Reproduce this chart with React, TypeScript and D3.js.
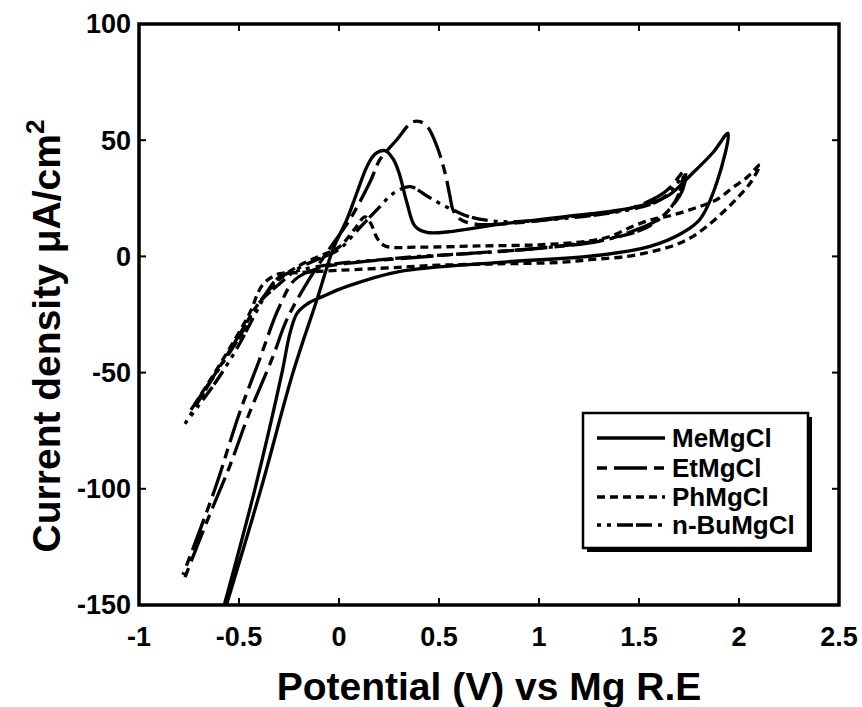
import React from "react";
import * as d3 from "d3";

// Cyclic voltammograms: [potential V, current density µA/cm²]
const meMgCl: [number, number][] = [
  [-0.57, -152], [-0.39, -100], [-0.23, -50], [-0.11, -18.5], [-0.03, 3], [0.04, 16],
  [0.09, 27.5], [0.14, 38.7], [0.18, 44], [0.23, 45.5], [0.27, 42], [0.3, 36], [0.34, 23],
  [0.38, 13], [0.44, 10.3], [0.57, 10.8], [0.8, 13.8], [1.14, 17.2], [1.47, 21], [1.64, 25.8],
  [1.77, 36], [1.87, 44.7], [1.945, 53],
  [1.89, 32], [1.805, 16], [1.72, 10.3], [1.555, 4.3], [1.3, 0.5], [0.8, -2.6], [0.3, -6.5],
  [0.04, -12.9], [-0.08, -17.2], [-0.16, -20.5], [-0.21, -24.5], [-0.245, -33], [-0.285, -50],
  [-0.42, -100], [-0.58, -152],
];

const etMgCl: [number, number][] = [
  [-0.77, -138], [-0.66, -114], [-0.545, -90], [-0.46, -70], [-0.33, -43], [-0.26, -27],
  [-0.15, -10], [-0.05, 3], [0.055, 16], [0.155, 32], [0.205, 41.7], [0.29, 50.3], [0.365, 57.7],
  [0.405, 58], [0.445, 55.5], [0.49, 47.3], [0.53, 36], [0.555, 25.8], [0.57, 20], [0.605, 16],
  [0.69, 13.8], [0.9, 14.5], [1.2, 17.5], [1.45, 20.5], [1.6, 26], [1.66, 30], [1.73, 37],
  [1.72, 29], [1.66, 21], [1.59, 15.5], [1.44, 10], [1.3, 6.5], [1.0, 3.5], [0.6, 1], [0.3, -1],
  [0.1, -2.5], [-0.1, -5], [-0.22, -10], [-0.3, -22], [-0.4, -45], [-0.5, -68], [-0.62, -100],
  [-0.78, -137],
];

const phMgCl: [number, number][] = [
  [-0.74, -66], [-0.6, -48], [-0.5, -34], [-0.4, -20], [-0.3, -10], [-0.2, -4], [-0.1, 0],
  [0, 4], [0.08, 12], [0.13, 17], [0.16, 14], [0.19, 8], [0.23, 4.5], [0.4, 4], [0.7, 4.5],
  [1.0, 5], [1.24, 6.5], [1.355, 8.6], [1.47, 13], [1.57, 16], [1.655, 17.5], [1.77, 20.5],
  [1.89, 24.5], [1.97, 29.7], [2.04, 34], [2.105, 39.5],
  [2.06, 32], [1.99, 25], [1.92, 19], [1.84, 13], [1.77, 8.6], [1.69, 5.2], [1.57, 2.2],
  [1.44, 0], [1.27, -1.3], [1.1, -2.6], [0.8, -3.2], [0.5, -3.8], [0.3, -4.7], [0, -6],
  [-0.2, -7], [-0.3, -7.5], [-0.38, -12], [-0.45, -25], [-0.55, -40], [-0.65, -54], [-0.74, -66],
];

const nBuMgCl: [number, number][] = [
  [-0.77, -72], [-0.65, -55], [-0.5, -35], [-0.4, -20], [-0.3, -12], [-0.2, -5], [-0.1, -1],
  [0, 3], [0.1, 12], [0.2, 21], [0.27, 27], [0.355, 30], [0.44, 26], [0.5, 23], [0.57, 20],
  [0.655, 17], [0.8, 15], [1.0, 15.5], [1.3, 18], [1.5, 21], [1.6, 24], [1.68, 30], [1.72, 35],
  [1.7, 27], [1.65, 20], [1.55, 13], [1.4, 8.5], [1.2, 5.5], [1.0, 3.5], [0.7, 1.5], [0.4, 0],
  [0.2, -1.5], [0, -3], [-0.2, -6], [-0.3, -9], [-0.35, -14], [-0.42, -25], [-0.5, -38],
  [-0.6, -52], [-0.7, -64], [-0.77, -72],
];

const seriesNames = ["MeMgCl", "EtMgCl", "PhMgCl", "n-BuMgCl"];
const seriesData = [meMgCl, etMgCl, phMgCl, nBuMgCl];
const dashes = ["none", "10,7,33,7", "8,5", "4,6,4,6,16,3,16,6"];

const xTicks = [-1, -0.5, 0, 0.5, 1, 1.5, 2, 2.5];
const yTicks = [-150, -100, -50, 0, 50, 100];

const W = 862;
const H = 707;
const left = 139, right = 839, top = 24, bottom = 605;

export default function App() {
  const x = d3.scaleLinear().domain([-1, 2.5]).range([left, right]);
  const y = d3.scaleLinear().domain([-150, 100]).range([bottom, top]);
  const line = d3
    .line<[number, number]>()
    .x((d) => x(d[0]))
    .y((d) => y(d[1]))
    .curve(d3.curveCatmullRom.alpha(0.5));

  const font = "'Liberation Sans', Arial, sans-serif";
  const tickLen = 7;

  // legend geometry
  const lx = 583, ly = 413, lw = 225, lh = 135;
  const rowY = [438, 468, 497, 525];

  return (
    <svg
      width={W}
      height={H}
      style={{ position: "absolute", left: 0, top: 0, background: "#fff" }}
      fontFamily={font}
    >
      <defs>
        <clipPath id="plot">
          <rect x={left} y={top} width={right - left} height={bottom - top} />
        </clipPath>
      </defs>

      <g clipPath="url(#plot)" fill="none" stroke="#000" strokeWidth={3.3}>
        {seriesData.map((s, i) => (
          <path key={i} d={line(s) || ""} strokeDasharray={dashes[i]} />
        ))}
      </g>

      {/* ticks on all four sides, pointing inward */}
      <g stroke="#000" strokeWidth={2}>
        {xTicks.map((t) => (
          <g key={"x" + t}>
            <line x1={x(t)} x2={x(t)} y1={bottom} y2={bottom - tickLen} />
            <line x1={x(t)} x2={x(t)} y1={top} y2={top + tickLen} />
          </g>
        ))}
        {yTicks.map((t) => (
          <g key={"y" + t}>
            <line x1={left} x2={left + tickLen} y1={y(t)} y2={y(t)} />
            <line x1={right} x2={right - tickLen} y1={y(t)} y2={y(t)} />
          </g>
        ))}
      </g>

      <rect
        x={left}
        y={top}
        width={right - left}
        height={bottom - top}
        fill="none"
        stroke="#000"
        strokeWidth={3.5}
      />

      <g fontSize={27} fontWeight="bold" fill="#000">
        {xTicks.map((t) => (
          <text key={"xl" + t} x={x(t)} y={646} textAnchor="middle">
            {String(t)}
          </text>
        ))}
        {yTicks.map((t) => (
          <text key={"yl" + t} x={131} y={y(t)} dy="0.35em" textAnchor="end">
            {String(t)}
          </text>
        ))}
      </g>

      <text x={(left + right) / 2} y={700} textAnchor="middle" fontSize={39} fontWeight="bold">
        Potential (V) vs Mg R.E
      </text>
      <text
        transform="translate(60,336) rotate(-90)"
        textAnchor="middle"
        fontSize={39}
        fontWeight="bold"
      >
        Current density μA/cm
        <tspan fontSize={26} dy={-16}>
          2
        </tspan>
      </text>

      {/* legend with drop shadow */}
      <rect x={lx + 4} y={ly + 4} width={lw} height={lh} fill="#000" />
      <rect x={lx} y={ly} width={lw} height={lh} fill="#fff" stroke="#000" strokeWidth={2.5} />
      {seriesNames.map((name, i) => (
        <g key={name}>
          <line
            x1={597}
            x2={665}
            y1={rowY[i]}
            y2={rowY[i]}
            stroke="#000"
            strokeWidth={3.3}
            strokeDasharray={dashes[i]}
          />
          <text x={672} y={rowY[i]} dy="0.36em" fontSize={26} fontWeight="bold">
            {name}
          </text>
        </g>
      ))}
    </svg>
  );
}
